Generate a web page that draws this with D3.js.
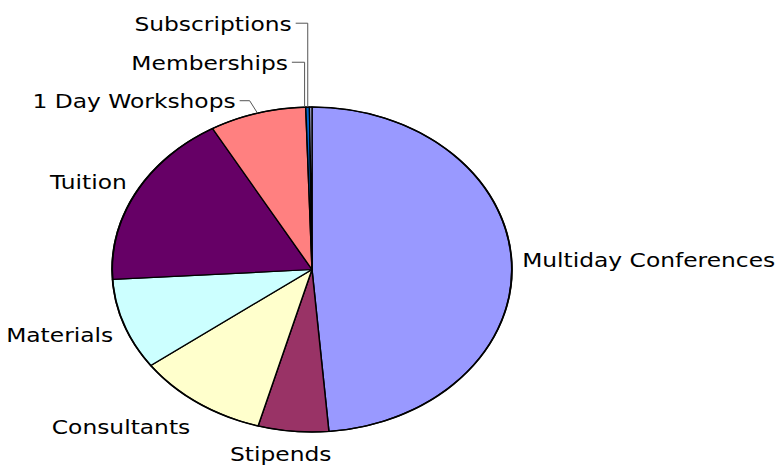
<!DOCTYPE html>
<html>
<head>
<meta charset="utf-8">
<script src="https://cdn.jsdelivr.net/npm/d3@7"></script>
<style>
  body { margin: 0; background: #fff; }
  svg { display: block; }
</style>
</head>
<body>
<script>
const categories = ['Multiday Conferences', 'Stipends', 'Consultants', 'Materials', 'Tuition', '1 Day Workshops', 'Memberships', 'Subscriptions']
const values = [48.7, 5.7, 10.6, 9.1, 17.7, 7.8, 0.3, 0.2]
const colors = ['#9999FF', '#993366', '#FFFFCC', '#CCFFFF', '#660066', '#FF8080', '#0066CC', '#CCCCFF']

const width = 777
const height = 466
const cx = 312
const cy = 269.5
const ry = 162.5
const sx = 1.23 // chart is stretched sideways, pie is an ellipse
const labelR = 171

// label nudges (dx, dy) and leader style, like dragged labels in the original
const nudge = {
  'Multiday Conferences': [0, -2],
  'Stipends': [-11.5, 0],
  'Consultants': [-2, 5],
  'Materials': [-1, 3],
  'Tuition': [0, 0],
  '1 Day Workshops': [-19, 9.5],
  'Memberships': [-19.5, -22],
  'Subscriptions': [-19, -61]
}
const leader = { '1 Day Workshops': 'elbow', 'Memberships': 'top', 'Subscriptions': 'top' }

const svg = d3.select('body').append('svg')
  .attr('width', width)
  .attr('height', height)

const data = categories.map((c, i) => ({ name: c, value: values[i], color: colors[i] }))
const pie = d3.pie().value(d => d.value).sort(null)
const arcs = pie(data)
const arc = d3.arc().innerRadius(0).outerRadius(ry)

const g = svg.append('g')
  .attr('transform', `translate(${cx}, ${cy}) scale(${sx}, 1)`)

g.selectAll('path')
  .data(arcs)
  .enter().append('path')
    .attr('d', arc)
    .style('fill', d => d.data.color)
    .style('stroke', '#000')
    .style('stroke-width', 1.2)
    .style('stroke-linejoin', 'round')

// outer border a bit heavier
g.append('ellipse')
  .attr('rx', ry).attr('ry', ry)
  .style('fill', 'none')
  .style('stroke', '#000')
  .style('stroke-width', 1.5)

const fontSize = 19

arcs.forEach(d => {
  const name = d.data.name
  const mid = (d.startAngle + d.endAngle) / 2
  const s = Math.sin(mid)
  const c = Math.cos(mid)
  const px = cx + sx * labelR * s
  const py = cy - labelR * c
  const anchor = s > 0.3 ? 'start' : s < -0.3 ? 'end' : 'middle'
  let x = px + nudge[name][0]
  let y = py + 7 - c * 14 + nudge[name][1]
  if (leader[name]) {
    // leader-line labels sit to the left of their line
    const t = svg.append('text')
      .attr('transform', `translate(${x}, ${y}) scale(${sx}, 1)`)
      .attr('text-anchor', 'end')
      .style('font-family', '"DejaVu Sans", Verdana, sans-serif')
      .style('font-size', fontSize + 'px')
      .style('fill', '#000')
      .text(name)
    const ex = cx + sx * ry * s
    const ey = cy - ry * c
    const midY = y - 7.3
    let pts
    if (leader[name] === 'elbow') {
      pts = [[ex, ey], [x + 14, midY], [x + 4, midY]]
    } else {
      pts = [[ex - 3, ey], [ex - 3, midY], [x + 4, midY]]
    }
    svg.append('path')
      .attr('d', d3.line()(pts))
      .style('fill', 'none')
      .style('stroke', '#555')
      .style('stroke-width', 1)
  } else {
    svg.append('text')
      .attr('transform', `translate(${x}, ${y}) scale(${sx}, 1)`)
      .attr('text-anchor', anchor)
      .style('font-family', '"DejaVu Sans", Verdana, sans-serif')
      .style('font-size', fontSize + 'px')
      .style('fill', '#000')
      .text(name)
  }
})
</script>
</body>
</html>
